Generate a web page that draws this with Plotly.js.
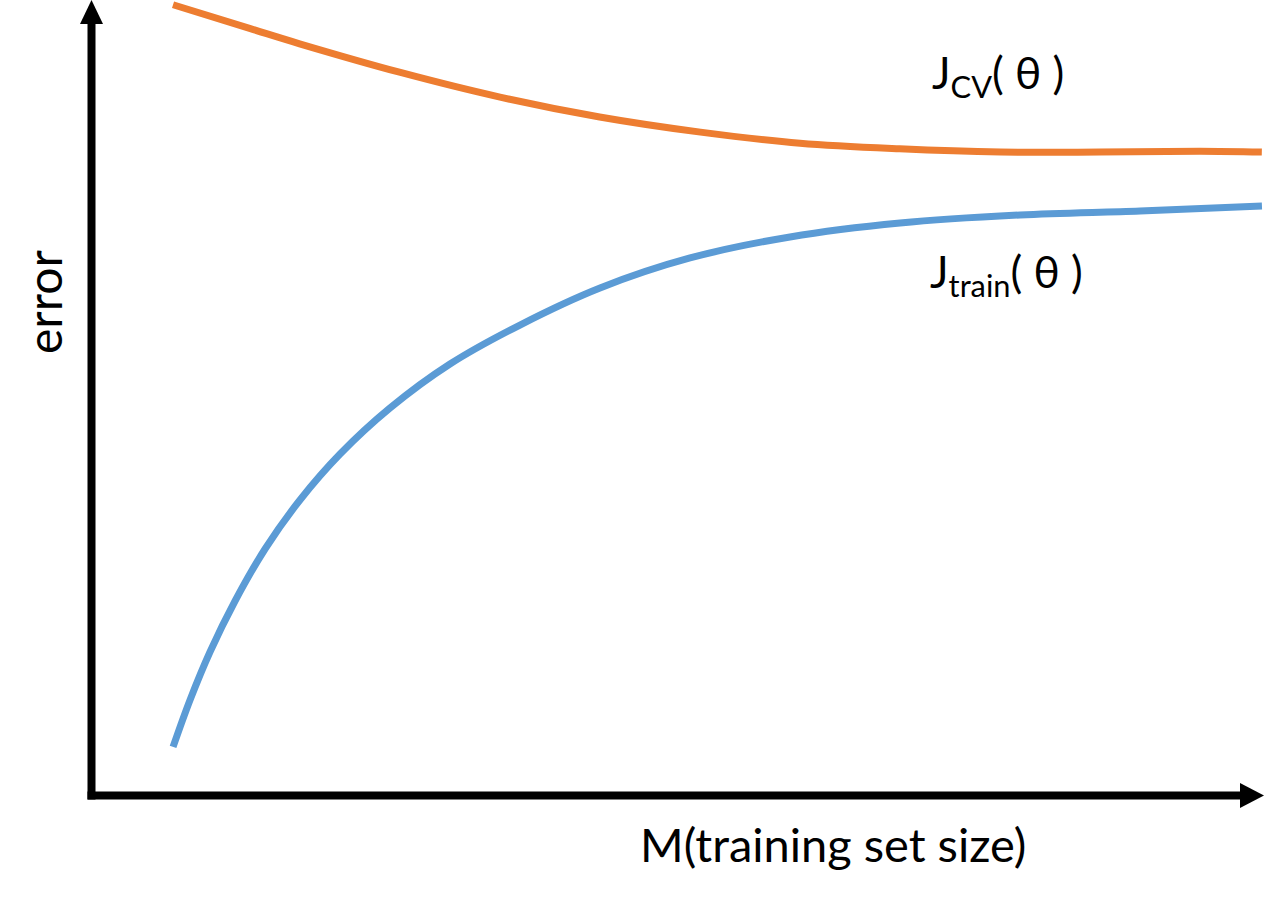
<!DOCTYPE html>
<html>
<head>
<meta charset="utf-8">
<script src="https://cdn.plot.ly/plotly-3.0.1.min.js"></script>
<style>
  html, body { margin: 0; padding: 0; background: #ffffff; }
  #chart { width: 1265px; height: 897px; }
</style>
</head>
<body>
<div id="chart"></div>
<script>
// ---- data (arbitrary units) ----
const trainSize = [7.00, 8.45, 10.15, 12.29, 14.85, 17.83, 21.25, 25.51, 30.63, 36.60, 43.43, 51.11, 59.64, 69.03, 79.27, 89.51, 99.91];
const trainError = [6.16, 12.06, 18.09, 24.50, 31.03, 37.19, 42.96, 48.74, 54.27, 59.17, 63.82, 67.59, 70.23, 71.98, 72.99, 73.49, 74.12];

const cvSize = [7.0, 13.6, 17.8, 26.4, 34.9, 43.4, 52.0, 60.5, 69.0, 77.6, 86.1, 94.6, 99.9];
const cvError = [99.4, 96.4, 94.5, 90.9, 87.8, 85.3, 83.4, 82.0, 81.3, 80.9, 80.9, 81.0, 80.9];

const xLabel = "M(training set size)";
const yLabel = "error";
const cvLabel = "J<sub>CV</sub>( θ )";
const trainLabel = "J<sub>train</sub>( θ )";

// ---- layout geometry ----
const W = 1265, H = 897;
const ML = 91, MR = 0, MT = 0, MB = 101;
const PW = W - ML - MR, PH = H - MT - MB;
const px = v => (v - ML) / PW;          // pixel x -> paper x
const py = v => (H - MB - v) / PH;      // pixel y -> paper y

const FONT = "Lato, 'Open Sans', sans-serif";

const traces = [
  {
    x: cvSize, y: cvError, type: "scatter", mode: "lines",
    line: { color: "#ED7D31", width: 7, shape: "spline", smoothing: 1 },
    hoverinfo: "skip", name: "J_CV"
  },
  {
    x: trainSize, y: trainError, type: "scatter", mode: "lines",
    line: { color: "#5B9BD5", width: 7, shape: "spline", smoothing: 1 },
    hoverinfo: "skip", name: "J_train"
  }
];

const axisCommon = {
  showgrid: false, zeroline: false, showline: false,
  showticklabels: false, ticks: "", fixedrange: true
};

const layout = {
  width: W, height: H,
  margin: { l: ML, r: MR, t: MT, b: MB, pad: 0 },
  paper_bgcolor: "#ffffff", plot_bgcolor: "#ffffff",
  showlegend: false,
  xaxis: Object.assign({ range: [0, PW / 11.72] }, axisCommon),
  yaxis: Object.assign({ range: [0, 100] }, axisCommon),
  shapes: [
    // y axis line
    { type: "line", xref: "paper", yref: "paper",
      x0: px(91.5), x1: px(91.5), y0: py(799.5), y1: py(20),
      line: { color: "#000000", width: 8 } },
    // x axis line
    { type: "line", xref: "paper", yref: "paper",
      x0: px(87.5), x1: px(1244), y0: py(795.5), y1: py(795.5),
      line: { color: "#000000", width: 8 } },
    // y arrow head
    { type: "path", xref: "paper", yref: "paper",
      path: `M ${px(80)} ${py(24)} L ${px(103)} ${py(24)} L ${px(91.5)} ${py(0)} Z`,
      fillcolor: "#000000", line: { color: "#000000", width: 0 } },
    // x arrow head
    { type: "path", xref: "paper", yref: "paper",
      path: `M ${px(1240)} ${py(783)} L ${px(1240)} ${py(808)} L ${px(1264)} ${py(795.5)} Z`,
      fillcolor: "#000000", line: { color: "#000000", width: 0 } }
  ],
  annotations: [
    { text: yLabel, xref: "paper", yref: "paper", x: px(43), y: py(302),
      xanchor: "center", yanchor: "middle", textangle: -90, showarrow: false,
      font: { family: FONT, size: 48, color: "#000000" } },
    { text: xLabel, xref: "paper", yref: "paper", x: px(833), y: py(844),
      xanchor: "center", yanchor: "middle", showarrow: false,
      font: { family: FONT, size: 47, color: "#000000" } },
    { text: cvLabel, xref: "paper", yref: "paper", x: px(930), y: py(75),
      xanchor: "left", yanchor: "middle", showarrow: false,
      font: { family: FONT, size: 44, color: "#000000" } },
    { text: trainLabel, xref: "paper", yref: "paper", x: px(928), y: py(274),
      xanchor: "left", yanchor: "middle", showarrow: false,
      font: { family: FONT, size: 44, color: "#000000" } }
  ]
};

Plotly.newPlot("chart", traces, layout, { staticPlot: true, displayModeBar: false });
</script>
</body>
</html>
